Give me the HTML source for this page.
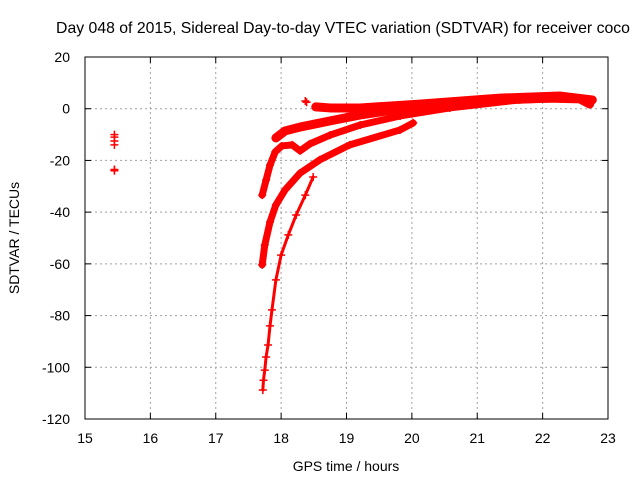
<!DOCTYPE html>
<html><head><meta charset="utf-8"><style>
body{margin:0;background:#fff}
svg{display:block;font-family:"Liberation Sans",sans-serif;font-size:14px}
</style></head><body>
<svg id="chart" width="640" height="480" viewBox="0 0 640 480">
<text x="343" y="33" text-anchor="middle" font-size="15.8">Day 048 of 2015, Sidereal Day-to-day VTEC variation (SDTVAR) for receiver coco</text>
<g id="grid"></g>
<g id="axes"></g>
<g id="data"></g>
<rect x="85" y="57" width="523" height="362" fill="none" stroke="#000" stroke-width="1"/>
<text x="346" y="471" text-anchor="middle">GPS time / hours</text>
<text transform="translate(19,238) rotate(-90)" text-anchor="middle">SDTVAR / TECUs</text>
</svg>
<script>
const xTicks=[15,16,17,18,19,20,21,22,23];
const yTicks=[20,0,-20,-40,-60,-80,-100,-120];
const trackAh=[17.92,18.06,18.29,18.75,19.21,19.82,20.58,21.35,22.11,22.57,22.72];
const trackAv=[-11.3,-8.6,-7.1,-4.7,-2.4,-0.1,1.8,3.4,4.1,3.8,1.8];
const trackBh=[17.71,17.77,17.83,17.91,18.01,18.17,18.29,18.44,18.75,19.21,19.82,20.58,21.65,22.27];
const trackBv=[-33.4,-27.6,-21.8,-16.7,-14.4,-14.0,-16.3,-13.6,-10.2,-6.3,-2.8,0.3,3.4,3.8];
const trackCh=[17.71,17.75,17.83,17.92,18.06,18.29,18.59,19.05,19.82,20.02];
const trackCv=[-60.4,-52.7,-43.8,-37.2,-31.4,-24.9,-19.8,-14.0,-8.2,-5.5];
const trackDh=[17.72,17.73,17.75,17.77,17.80,17.83,17.86,17.92,18.00,18.11,18.23,18.37,18.49];
const trackDv=[-108.8,-105,-101.1,-96,-91.4,-84,-77.8,-66.2,-56.6,-48.8,-41.1,-33.4,-26.4];
const trackEh=[18.53,18.75,19.21,20.12,21.35,22.27,22.76];
const trackEv=[0.7,0.3,0.3,1.8,4.1,4.9,3.4];
const isolatedH=[15.45,15.45,15.45,15.45,15.45,15.45,18.37,18.39];
const isolatedV=[-10,-11,-12.5,-14,-23.5,-24,3,2.5];
const X0=85,X1=608,Y0=57,Y1=419,xmin=15,xmax=23,ymin=-120,ymax=20;
const sx=h=>X0+(h-xmin)/(xmax-xmin)*(X1-X0);
const sy=v=>Y1-(v-ymin)/(ymax-ymin)*(Y1-Y0);
const NS="http://www.w3.org/2000/svg";
const grid=document.getElementById('grid'),axes=document.getElementById('axes'),data=document.getElementById('data');
function mk(t,a,p){const e=document.createElementNS(NS,t);for(const k in a)e.setAttribute(k,a[k]);p.appendChild(e);return e;}
xTicks.forEach(t=>{const x=sx(t);
 if(t>xmin&&t<xmax){const g=mk('line',{x1:x,x2:x,y1:Y0,y2:Y1,stroke:'#a0a0a0','stroke-dasharray':'2,3'},grid);
 
 }
 const l=mk('text',{x:x,y:Y1+24,'text-anchor':'middle'},axes);l.textContent=t;
 
 
 mk('line',{x1:x,x2:x,y1:Y1,y2:Y1-6,stroke:'#000'},axes);mk('line',{x1:x,x2:x,y1:Y0,y2:Y0+6,stroke:'#000'},axes);});
yTicks.forEach(t=>{const y=sy(t);
 if(t>ymin&&t<ymax){const g=mk('line',{x1:X0,x2:X1,y1:y,y2:y,stroke:'#a0a0a0','stroke-dasharray':'2,3'},grid);
 
 }
 const l=mk('text',{x:X0-15,y:y+5,'text-anchor':'end'},axes);l.textContent=t;
 
 
 mk('line',{x1:X0,x2:X0+6,y1:y,y2:y,stroke:'#000'},axes);mk('line',{x1:X1,x2:X1-6,y1:y,y2:y,stroke:'#000'},axes);});
function plus(h,v,name){const x=sx(h),y=sy(v);
 const p=mk('path',{d:`M${x-4},${y}H${x+4}M${x},${y-4}V${y+4}`,stroke:'#f00','stroke-width':1.5,fill:'none'},data);
 
 }
function track(hs,vs,name,w){
 const pl=mk('polyline',{points:hs.map((h,i)=>sx(h)+','+sy(vs[i])).join(' '),fill:'none',stroke:'#f00','stroke-width':w,'stroke-linejoin':'round','stroke-linecap':'round'},data);
 
 
 hs.forEach((h,i)=>plus(h,vs[i],name+'-point'));}
track(trackAh,trackAv,'track-a',9);
track(trackBh,trackBv,'track-b',7);
track(trackCh,trackCv,'track-c',7);
track(trackDh,trackDv,'track-d',3);
track(trackEh,trackEv,'track-e',9);
isolatedH.forEach((h,i)=>plus(h,isolatedV[i],'isolated-point'));
</script>
</body></html>
